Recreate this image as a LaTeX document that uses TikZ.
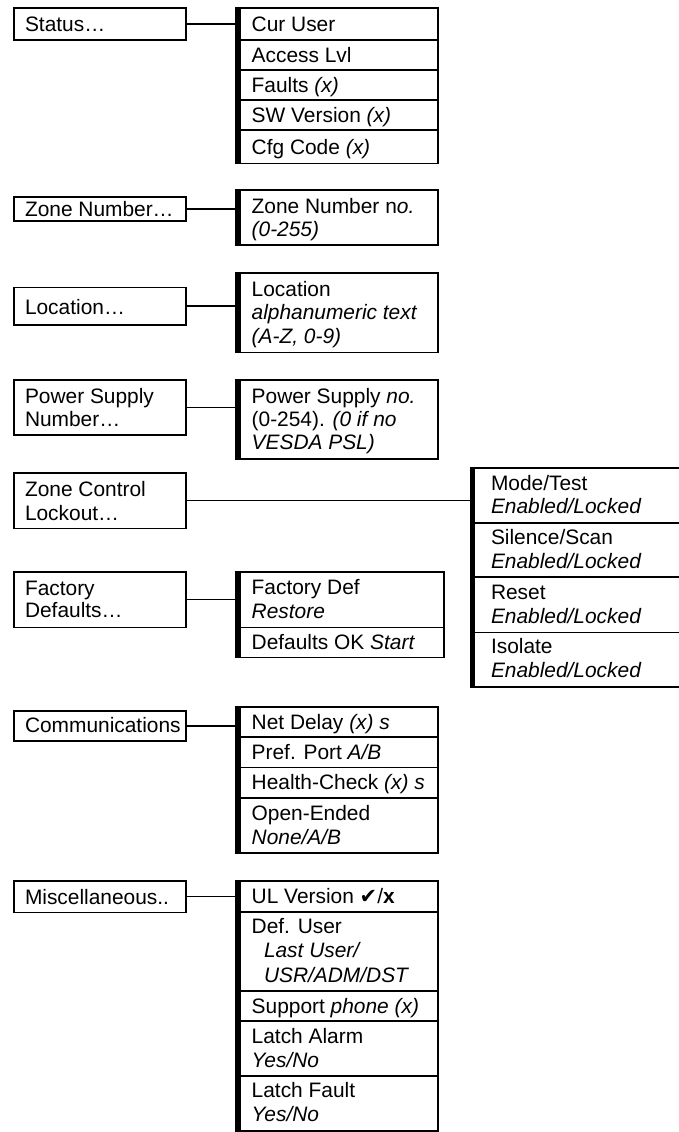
\documentclass[tikz,border=0pt]{standalone}
\usepackage{fontspec}
\setmainfont{Liberation Sans}
\newfontfamily\dejavu{DejaVu Sans}
\tikzset{
  cellbox/.style={draw, line width=1.6pt, inner sep=0pt, outer sep=0pt, anchor=north west},
  txt/.style={inner sep=0pt, outer sep=0pt, anchor=base west, font=\fontsize{20.9}{24}\selectfont},
  link/.style={line width=1.6pt},
  thickedge/.style={line width=5.2pt}
}
% \cell{name}{x}{ytop}{width}{height}
\newcommand\cell[5]{\node[cellbox, minimum width=#4pt, minimum height=#5pt] (#1) at (#2,#3) {};}
\newcommand\tx[4]{\node[txt] (#1) at (#2,#3) {#4};}
\newcommand\thk[2]{\draw[thickedge] ([xshift=2pt,yshift=0.8pt]#1.north west) -- ([xshift=2pt,yshift=-0.8pt]#2.south west);}
\begin{document}
\begin{tikzpicture}[x=1pt,y=-1pt]
\useasboundingbox (0,0) rectangle (679,1132);
\clip (0,0) rectangle (679,1132);

% ---------- Status ----------
\cell{sL}{14}{8.3}{172}{31.7}
\tx{sLt}{25}{31.6}{Status…}
\cell{s1}{236}{8.3}{202}{31.7}
\cell{s2}{236}{40}{202}{30}
\cell{s3}{236}{70}{202}{30}
\cell{s4}{236}{100}{202}{30}
\cell{s5}{236}{130}{202}{33.3}
\thk{s1}{s5}
\tx{s1t}{251.7}{31.6}{Cur User}
\tx{s2t}{251.7}{62.4}{Access Lvl}
\tx{s3t}{251.7}{92.4}{Faults \textit{(x)}}
\tx{s4t}{251.7}{122.4}{SW Version \textit{(x)}}
\tx{s5t}{251.7}{154.1}{Cfg Code \textit{(x)}}
\draw[link] (sL.east) -- (sL.east -| s1.west);

% ---------- Zone Number ----------
\cell{znL}{14}{196.7}{172}{24}
\tx{znLt}{25}{216.1}{Zone Number…}
\cell{zn1}{236}{190}{202}{55}
\thk{zn1}{zn1}
\tx{zn1a}{251.7}{213.3}{Zone Number n\textit{o.}}
\tx{zn1b}{251.7}{236.6}{\textit{(0-255)}}
\draw[link] (znL.east) -- (znL.east -| zn1.west);

% ---------- Location ----------
\cell{loL}{14}{287.3}{172}{37.7}
\tx{loLt}{25}{314.5}{Location…}
\cell{lo1}{236}{272.7}{202}{79.6}
\thk{lo1}{lo1}
\tx{lo1a}{251.7}{296.3}{Location}
\tx{lo1b}{251.7}{319.7}{\textit{alphanumeric text}}
\tx{lo1c}{251.7}{343}{\textit{(A-Z, 0-9)}}
\draw[link] (loL.east) -- (loL.east -| lo1.west);

% ---------- Power Supply ----------
\cell{psL}{14}{380}{172}{55}
\tx{psLa}{25}{403.3}{Power Supply}
\tx{psLb}{25}{426}{Number…}
\cell{ps1}{236}{380}{202}{79}
\thk{ps1}{ps1}
\tx{ps1a}{251.7}{403.3}{Power Supply \textit{no.}}
\tx{ps1b}{251.7}{426.5}{(0-254). \textit{(0 if no}}
\tx{ps1c}{251.7}{449.7}{\textit{VESDA PSL)}}
\draw[link] (psL.east) -- (psL.east -| ps1.west);

% ---------- Zone Control Lockout ----------
\cell{zcL}{14}{472.7}{172}{55.6}
\tx{zcLa}{25}{496}{Zone Control}
\tx{zcLb}{25}{520}{Lockout…}
\cell{zc1}{470.7}{467.7}{212}{55}
\cell{zc2}{470.7}{522.7}{212}{54}
\cell{zc3}{470.7}{576.7}{212}{55.6}
\cell{zc4}{470.7}{632.3}{212}{54.4}
\thk{zc1}{zc4}
\tx{zc1a}{491}{490}{Mode/Test}
\tx{zc1b}{491}{513.5}{\textit{Enabled/Locked}}
\tx{zc2a}{491}{544.5}{Silence/Scan}
\tx{zc2b}{491}{568}{\textit{Enabled/Locked}}
\tx{zc3a}{491}{599.3}{Reset}
\tx{zc3b}{491}{623}{\textit{Enabled/Locked}}
\tx{zc4a}{491}{653.5}{Isolate}
\tx{zc4b}{491}{677}{\textit{Enabled/Locked}}
\draw[link] (zcL.east) -- (zcL.east -| zc1.west);

% ---------- Factory Defaults ----------
\cell{fdL}{14}{571.7}{172}{55.6}
\tx{fdLa}{25}{595}{Factory}
\tx{fdLb}{25}{617.5}{Defaults…}
\cell{fd1}{236}{571.7}{208}{55.6}
\cell{fd2}{236}{627.3}{208}{30}
\thk{fd1}{fd2}
\tx{fd1a}{251.7}{594.5}{Factory Def}
\tx{fd1b}{251.7}{618}{\textit{Restore}}
\tx{fd2t}{251.7}{649}{Defaults OK \textit{Start}}
\draw[link] (fdL.east) -- (fdL.east -| fd1.west);

% ---------- Communications ----------
\cell{cmL}{14}{710.7}{172}{30}
\tx{cmLt}{25}{732.5}{Communications}
\cell{cm1}{236}{706.7}{202}{30}
\cell{cm2}{236}{736.7}{202}{30.6}
\cell{cm3}{236}{767.3}{202}{30.4}
\cell{cm4}{236}{797.7}{202}{55}
\thk{cm1}{cm4}
\tx{cm1t}{251.7}{729.1}{Net Delay \textit{(x) s}}
\tx{cm2t}{251.7}{759.4}{Pref. Port \textit{A/B}}
\tx{cm3t}{251.7}{789.9}{Health-Check \textit{(x) s}}
\tx{cm4a}{251.7}{820.7}{Open-Ended}
\tx{cm4b}{251.7}{844.2}{\textit{None/A/B}}
\draw[link] (cmL.east) -- (cmL.east -| cm1.west);

% ---------- Miscellaneous ----------
\cell{miL}{14}{881}{172}{31.3}
\tx{miLt}{25}{904}{Miscellaneous..}
\cell{mi1}{236}{881}{202}{30.7}
\cell{mi2}{236}{911.7}{202}{79}
\cell{mi3}{236}{990.7}{202}{30}
\cell{mi4}{236}{1020.7}{202}{55}
\cell{mi5}{236}{1075.7}{202}{55.3}
\thk{mi1}{mi5}
\tx{mi1t}{251.7}{903.8}{UL Version {\dejavu\bfseries ✔}/\textbf{x}}
\tx{mi2a}{251.7}{933.3}{Def. User}
\tx{mi2b}{264}{957.7}{\textit{Last User/}}
\tx{mi2c}{264}{982.3}{\textit{USR/ADM/DST}}
\tx{mi3t}{251.7}{1013.1}{Support \textit{phone (x)}}
\tx{mi4a}{251.7}{1043.3}{Latch Alarm}
\tx{mi4b}{251.7}{1067.3}{\textit{Yes/No}}
\tx{mi5a}{251.7}{1097.7}{Latch Fault}
\tx{mi5b}{251.7}{1121.7}{\textit{Yes/No}}
\draw[link] (miL.east) -- (miL.east -| mi1.west);
\end{tikzpicture}
\end{document}
